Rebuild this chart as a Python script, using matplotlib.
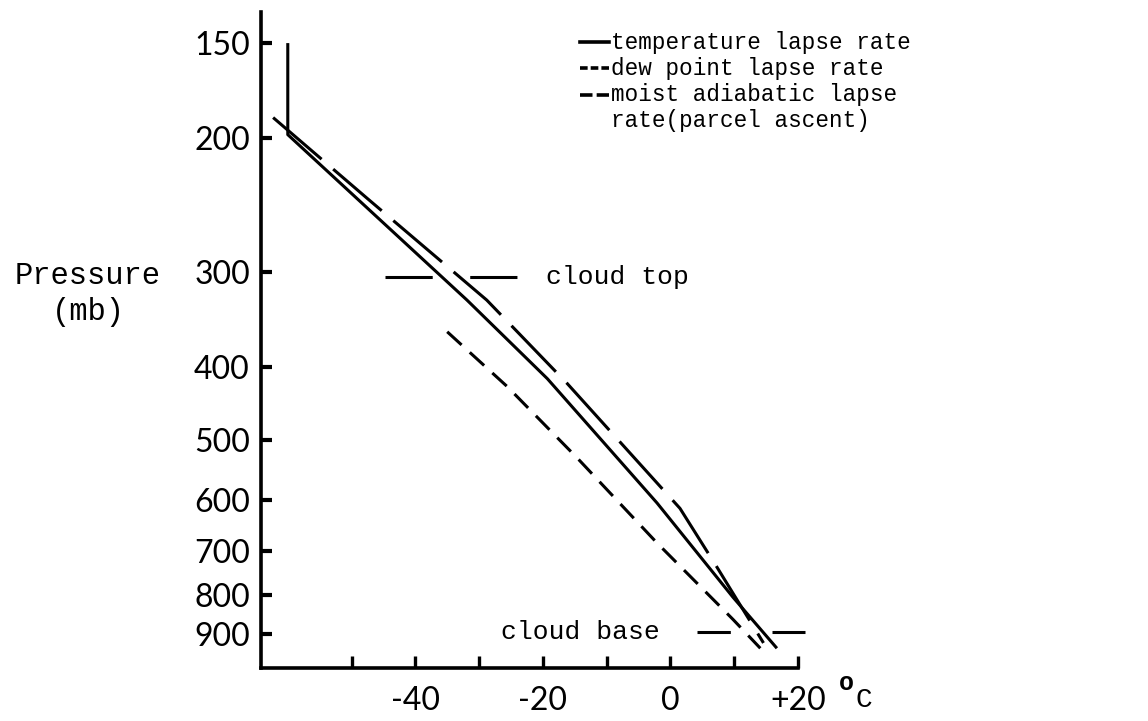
import matplotlib
matplotlib.use('Agg')
import matplotlib.pyplot as plt
from matplotlib.lines import Line2D
from matplotlib.ticker import FixedLocator, FixedFormatter, NullLocator

# sounding profiles: temperature (degC) against pressure (mb)
temp_T = [-60.0, -60.0, -31.9, -19.3, -2.1, 9.8, 16.7]
temp_p = [150, 198, 327, 415, 605, 805, 940]

dew_T = [-35.0, -25.6, -14.6, -2.1, 9.8, 14.1]
dew_p = [360, 425, 528, 683, 861, 940]

moist_T = [-62.3, -47.6, -28.8, -16.2, 1.5, 7.3, 14.6]
moist_p = [188, 240, 327, 421, 615, 735, 925]

cloud_top_T = [-44.7, -23.9]
cloud_top_p = [305, 305]
cloud_base_T = [4.2, 21.1]
cloud_base_p = [896, 896]

p_ticks = [150, 200, 300, 400, 500, 600, 700, 800, 900]
p_labels = ['150', '200', '300', '400', '500', '600', '700', '800', '900']
t_ticks = [-50, -40, -30, -20, -10, 0, 10, 20]
t_labels = ['', '-40', '', '-20', '', '0', '', '+20']

legend_labels = ['temperature lapse rate', 'dew point lapse rate',
                 'moist adiabatic lapse', 'rate(parcel ascent)']

plt.rcParams['lines.scale_dashes'] = False

W, H = 1148, 721


def fx(px):
    return px / W


def fy(py):
    return 1 - py / H


fig = plt.figure(figsize=(W / 100, H / 100), dpi=100)
ax = fig.add_axes([fx(261), fy(668), (870 - 261) / W, (668 - 12) / H])

lw = 2.2
ax.plot(temp_T, temp_p, color='black', lw=lw, solid_capstyle='butt')
ax.plot(dew_T, dew_p, color='black', lw=lw, dashes=(14, 8))
ax.plot(moist_T, moist_p, color='black', lw=lw, dashes=(46, 11))
ax.plot(cloud_top_T, cloud_top_p, color='black', lw=lw, dashes=(34, 27))
ax.plot(cloud_base_T, cloud_base_p, color='black', lw=lw, dashes=(24, 30))

ax.set_yscale('log')
ax.set_ylim(998, 136.5)
ax.set_xlim(-64.2, 31.3)

ax.yaxis.set_major_locator(FixedLocator(p_ticks))
ax.yaxis.set_major_formatter(FixedFormatter(p_labels))
ax.yaxis.set_minor_locator(NullLocator())
ax.xaxis.set_major_locator(FixedLocator(t_ticks))
ax.xaxis.set_major_formatter(FixedFormatter(t_labels))

for side in ['top', 'right']:
    ax.spines[side].set_visible(False)
for side in ['left', 'bottom']:
    ax.spines[side].set_linewidth(2.6)
ax.spines['bottom'].set_bounds(-64.2, 20)

ax.tick_params(axis='y', direction='in', length=8, width=3, pad=8,
               labelsize=23, labelfontfamily='Lato')
ax.tick_params(axis='x', direction='in', length=9, width=2.4, pad=13,
               labelsize=23, labelfontfamily='Lato')

mono = 'Liberation Mono'
fig.text(fx(88), fy(276), 'Pressure', family=mono, size=22,
         ha='center', va='center')
fig.text(fx(88), fy(312), '(mb)', family=mono, size=22,
         ha='center', va='center')
ax.text(-19.5, 305, 'cloud top', family=mono, size=19, va='center')
ax.text(-26.5, 896, 'cloud base', family=mono, size=19, va='center')

# degree sign typed as a raised "o"
fig.text(fx(846), fy(683), 'o', family=mono, size=18, weight='bold',
         ha='center', va='center')
fig.text(fx(864), fy(700), 'C', family=mono, size=20,
         ha='center', va='center')

# hand-typed key in the upper right
rows = [42, 68, 95, 121]
key_styles = [None, (5.5, 2.2), (9, 3)]
for y, style in zip(rows[:3], key_styles):
    line = Line2D([fx(580), fx(609)], [fy(y), fy(y)], color='black',
                  lw=2.6, transform=fig.transFigure)
    if style is not None:
        line.set_dashes(style)
    fig.add_artist(line)
for y, label in zip(rows, legend_labels):
    fig.text(fx(611), fy(y), label, family=mono, size=16.3, va='center')

fig.savefig('out.png', dpi=100)
